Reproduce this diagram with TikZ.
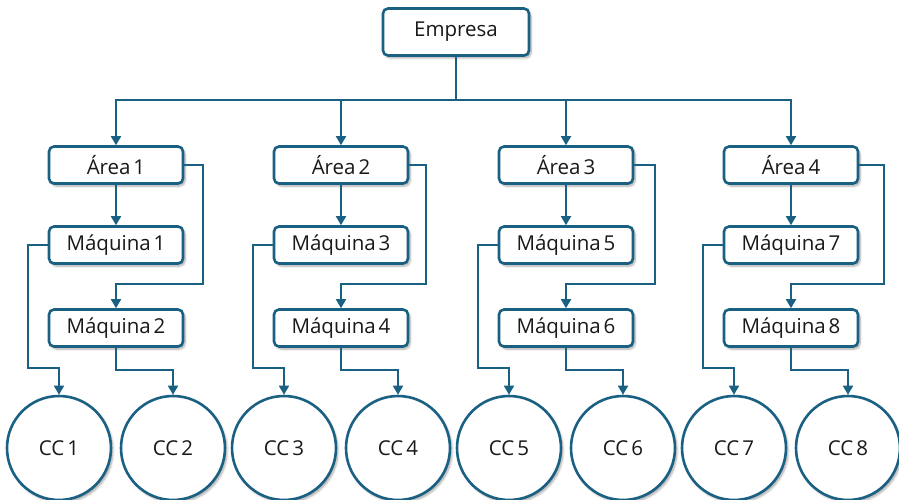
\documentclass[tikz,border=0pt]{standalone}
\usepackage{fontspec}
\setmainfont{Open Sans}[WordSpace=0.55]
\usetikzlibrary{arrows.meta,shadows.blur}
\definecolor{lc}{RGB}{26,96,130}
\definecolor{tc}{RGB}{25,25,25}
\begin{document}
\begin{tikzpicture}[x=1pt,y=-1pt,
  shad/.style={blur shadow={shadow xshift=2pt,shadow yshift=-2.5pt,shadow blur steps=6,shadow opacity=35}},
  box/.style={draw=lc,line width=2.6pt,rounded corners=5pt,fill=white,minimum width=134pt,minimum height=37pt,inner sep=0pt,text=tc,font=\fontsize{20.5}{23}\selectfont,shad},
  cc/.style={circle,draw=lc,line width=2.6pt,fill=white,minimum size=104pt,inner sep=0pt,text=tc,font=\fontsize{20.5}{23}\selectfont,shad},
  conn/.style={draw=lc,line width=1.8pt,-{Triangle[length=9pt,width=10pt]}}
]
\useasboundingbox (0,0) rectangle (899,500);
\node[box,minimum width=146pt,minimum height=47pt] (emp) at (456,32) {Empresa};
\coordinate (bus) at (456,100);
\foreach \i/\ax/\rr in {1/116/203, 2/341/426, 3/566/655, 4/791/884} {
  \pgfmathtruncatemacro\ma{2*\i-1}
  \pgfmathtruncatemacro\mb{2*\i}
  \node[box] (a\i) at (\ax,165) {Área \i};
  \node[box] (m\ma) at (\ax,245) {Máquina \ma};
  \node[box] (m\mb) at (\ax,328) {Máquina \mb};
  \node[cc] (c\ma) at (\ax-57,448) {CC \ma};
  \node[cc] (c\mb) at (\ax+57,448) {CC \mb};
  \coordinate (r\i) at (\rr,284);
  \coordinate (l\i) at (\ax-88,368);
  \coordinate (d\i) at (\ax,370);
  \draw[conn] (emp.south) -- (bus) -| (a\i.north);
  \draw[conn] (a\i) -- (m\ma);
  \draw[conn] (a\i.east) -| (r\i) -| (m\mb.north);
  \draw[conn] (m\ma.west) -| (l\i) -| (c\ma.north);
  \draw[conn] (m\mb) -- (d\i) -| (c\mb.north);
}
\end{tikzpicture}
\end{document}
